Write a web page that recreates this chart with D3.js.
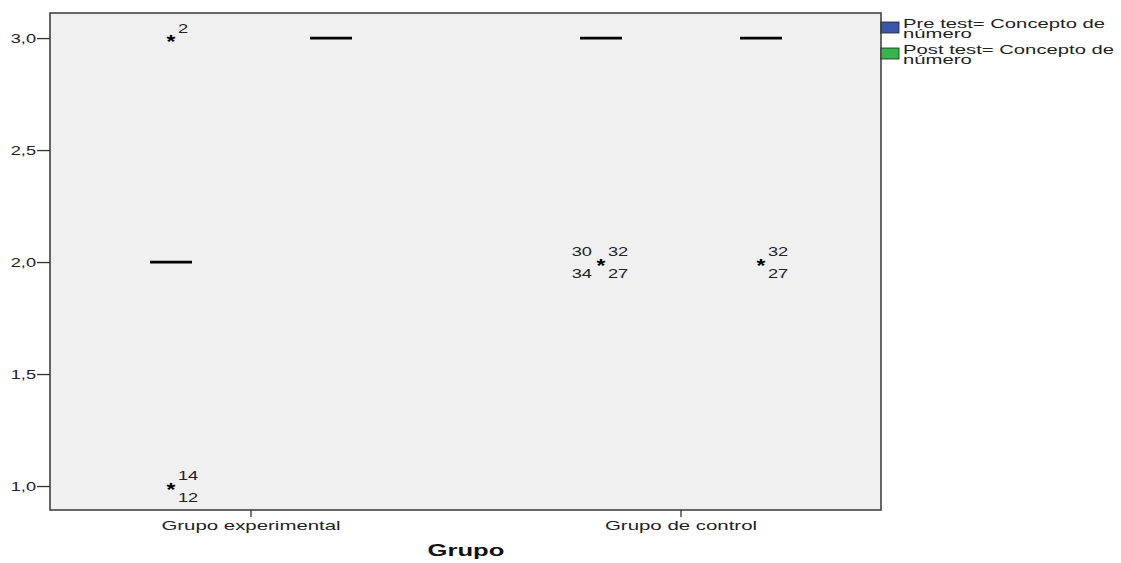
<!DOCTYPE html>
<html>
<head>
<meta charset="utf-8">
<script src="https://cdn.jsdelivr.net/npm/d3@7"></script>
<style>
  html, body { margin: 0; padding: 0; background: #fff; }
  svg { display: block; font-family: "Liberation Sans", Arial, sans-serif; }
</style>
</head>
<body>
<svg id="chart" width="1121" height="563"></svg>
<script>
// Groups on the x axis and the two tests drawn side by side within each group
const groups = ["Grupo experimental", "Grupo de control"];
const tests = ["Pre test= Concepto de número", "Post test= Concepto de número"];
const testColors = ["#3b55aa", "#35b54a"];

// Box statistics per test, one entry per group (all quartiles collapse onto the median)
const preMedian = [2.0, 3.0];
const postMedian = [3.0, 3.0];
const preQ1 = [2.0, 3.0], preQ3 = [2.0, 3.0];
const postQ1 = [3.0, 3.0], postQ3 = [3.0, 3.0];

// Extreme values (drawn as stars) with their case numbers
const outlierGroup = ["Grupo experimental", "Grupo experimental", "Grupo de control", "Grupo de control"];
const outlierTest = [0, 0, 0, 1];
const outlierValue = [3.0, 1.0, 2.0, 2.0];
const outlierCasesLeft = [[], [], ["30", "34"], []];
const outlierCasesRight = [["2"], ["14", "12"], ["32", "27"], ["32", "27"]];

const yTicks = [1.0, 1.5, 2.0, 2.5, 3.0];

const svg = d3.select("#chart");
const plot = { left: 50, top: 13, right: 881, bottom: 510 };

// widen a text horizontally, like the broad face used by the chart
function stretch(sel, k) {
  sel.each(function () {
    const w = this.getComputedTextLength();
    d3.select(this).attr("textLength", w * k).attr("lengthAdjust", "spacingAndGlyphs");
  });
}

const y = d3.scaleLinear().domain([0.893, 3.112]).range([plot.bottom, plot.top]);
const x = d3.scaleBand().domain(groups).range([36, 896]);
const xTest = d3.scalePoint().domain([0, 1]).range([-80, 80]);
const boxW = 42;

// plot background and frame
svg.append("rect")
  .attr("x", plot.left).attr("y", plot.top)
  .attr("width", plot.right - plot.left).attr("height", plot.bottom - plot.top)
  .attr("fill", "#f0f0f0").attr("stroke", "#444").attr("stroke-width", 1.6);

// y axis
const yAxis = d3.axisLeft(y).tickValues(yTicks).tickSize(13).tickPadding(1)
  .tickFormat(d => d3.format(".1f")(d).replace(".", ","));
const gy = svg.append("g").attr("transform", `translate(${plot.left},0)`).call(yAxis);
gy.select(".domain").remove();
gy.selectAll(".tick line").attr("stroke", "#333").attr("stroke-width", 1.3);
gy.selectAll(".tick text").attr("fill", "#222").style("font-size", "13px").call(stretch, 1.4);

// x axis
const xAxis = d3.axisBottom(x).tickSize(7).tickPadding(4);
const gx = svg.append("g").attr("transform", `translate(0,${plot.bottom})`).call(xAxis);
gx.select(".domain").remove();
gx.selectAll(".tick line").attr("stroke", "#333").attr("stroke-width", 1.3);
gx.selectAll(".tick text").attr("fill", "#222").style("font-size", "13px").call(stretch, 1.57);

svg.append("text")
  .attr("x", 466).attr("y", 556)
  .attr("text-anchor", "middle")
  .style("font-size", "16px").style("font-weight", "bold").attr("fill", "#111")
  .text("Grupo")
  .call(stretch, 1.6);

// boxes: collapsed boxes reduce to a thick median bar
const boxes = [];
groups.forEach((g, i) => {
  boxes.push({ g, t: 0, q1: preQ1[i], q3: preQ3[i], med: preMedian[i] });
  boxes.push({ g, t: 1, q1: postQ1[i], q3: postQ3[i], med: postMedian[i] });
});
const cx = (g, t) => x(g) + x.bandwidth() / 2 + xTest(t);

const bg = svg.append("g");
bg.selectAll("rect.box").data(boxes).join("rect")
  .attr("class", "box")
  .attr("x", d => cx(d.g, d.t) - boxW / 2)
  .attr("y", d => y(d.q3))
  .attr("width", boxW)
  .attr("height", d => y(d.q1) - y(d.q3))
  .attr("fill", d => testColors[d.t]);
bg.selectAll("line.med").data(boxes).join("line")
  .attr("class", "med")
  .attr("x1", d => cx(d.g, d.t) - boxW / 2)
  .attr("x2", d => cx(d.g, d.t) + boxW / 2)
  .attr("y1", d => y(d.med)).attr("y2", d => y(d.med))
  .attr("stroke", "#000").attr("stroke-width", 2.8);

// extreme values
const outliers = outlierValue.map((v, i) => ({
  g: outlierGroup[i], t: outlierTest[i], v,
  left: outlierCasesLeft[i], right: outlierCasesRight[i]
}));
const og = svg.append("g").style("font-size", "13px").attr("fill", "#222");
outliers.forEach(o => {
  const px = cx(o.g, o.t), py = y(o.v);
  og.append("text").attr("x", px).attr("y", py + 10)
    .attr("text-anchor", "middle").style("font-size", "19px").style("font-weight", "bold").attr("fill", "#000")
    .text("*").call(stretch, 1.2);
  const place = (labels, side) => {
    labels.forEach((lab, k) => {
      const dy = labels.length === 1 ? -5 : (k === 0 ? -6 : 16);
      og.append("text")
        .attr("x", side === "right" ? px + 7 : px - 9)
        .attr("y", py + dy)
        .attr("text-anchor", side === "right" ? "start" : "end")
        .text(lab)
        .call(stretch, 1.4);
    });
  };
  place(o.right, "right");
  place(o.left, "left");
});

// legend
const lg = svg.append("g").attr("transform", "translate(881,22)");
tests.forEach((name, i) => {
  const row = lg.append("g").attr("transform", `translate(0,${i * 26})`);
  row.append("rect").attr("width", 18).attr("height", 11)
    .attr("fill", testColors[i]).attr("stroke", "#222").attr("stroke-width", 0.8);
  const words = name.split(" ");
  const t = row.append("text").style("font-size", "12.5px").attr("fill", "#222");
  t.append("tspan").attr("x", 22).attr("y", 6).text(words.slice(0, -1).join(" "));
  t.append("tspan").attr("x", 22).attr("y", 16).text(words[words.length - 1]);
  t.selectAll("tspan").call(stretch, 1.62);
});
</script>
</body>
</html>
